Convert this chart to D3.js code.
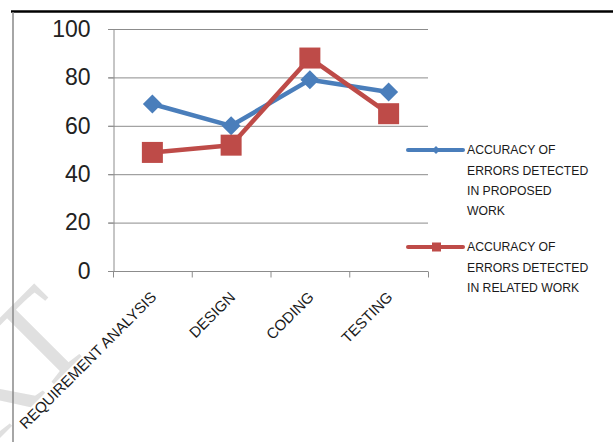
<!DOCTYPE html>
<html>
<head>
<meta charset="utf-8">
<script src="https://cdn.jsdelivr.net/npm/d3@7"></script>
<style>
  body { margin: 0; background: #fff; }
  svg { display: block; font-family: "Liberation Sans", Arial, sans-serif; }
</style>
</head>
<body>
<div id="chart"></div>
<script>
const categories = ["REQUIREMENT ANALYSIS", "DESIGN", "CODING", "TESTING"];
const proposedValues = [69, 60, 79, 74];
const relatedValues = [49, 52, 88, 65];
const yTicks = [0, 20, 40, 60, 80, 100];
const seriesNames = [
    ["ACCURACY OF", "ERRORS DETECTED", "IN PROPOSED", "WORK"],
    ["ACCURACY OF", "ERRORS DETECTED", "IN RELATED WORK"]
];

const width = 613, height = 442;
const blue = "#4a7ebb", red = "#be4b48";

const svg = d3.select("#chart").append("svg")
    .attr("width", width)
    .attr("height", height);

// faint watermark behind the chart
svg.append("text")
    .attr("transform", "translate(96,342) rotate(-45)")
    .attr("text-anchor", "end")
    .style("font-family", "'Liberation Serif', serif")
    .style("font-size", "130px")
    .style("fill", "#e0e0e0")
    .text("IJERT");

// frame
svg.append("line").attr("x1", 11).attr("x2", width).attr("y1", 11.5).attr("y2", 11.5)
    .style("stroke", "#000").style("stroke-width", 2.5);
svg.append("line").attr("x1", 13).attr("x2", 13).attr("y1", 12).attr("y2", height)
    .style("stroke", "#888").style("stroke-width", 1.5);

const x = d3.scaleBand().domain(categories).range([113, 428]);
const y = d3.scaleLinear().domain([0, 100]).range([271, 29]);

// gridlines
svg.append("g").selectAll("line")
    .data(yTicks.filter(d => d > 0))
    .enter().append("line")
    .attr("x1", 108).attr("x2", 428)
    .attr("y1", d => y(d) + 0.5).attr("y2", d => y(d) + 0.5)
    .style("stroke", "#8c8c8c").style("stroke-width", 1);

// y axis
const yAxis = svg.append("g")
    .attr("transform", "translate(113.5,0)")
    .call(d3.axisLeft(y).tickValues(yTicks).tickSize(5).tickPadding(18));
yAxis.select(".domain").style("stroke", "#8c8c8c");
yAxis.selectAll(".tick line").style("stroke", "#8c8c8c");
yAxis.selectAll(".tick text")
    .style("font-size", "23px")
    .style("fill", "#222")
    .style("font-family", "'Liberation Sans', Arial, sans-serif");

// x axis
const xAxis = svg.append("g").attr("transform", "translate(0,271.5)");
xAxis.append("line").attr("x1", 108).attr("x2", 428).style("stroke", "#8c8c8c");
xAxis.selectAll(".xtick")
    .data(d3.range(categories.length + 1))
    .enter().append("line")
    .attr("x1", i => 113.5 + i * x.bandwidth())
    .attr("x2", i => 113.5 + i * x.bandwidth())
    .attr("y1", 0).attr("y2", 6)
    .style("stroke", "#8c8c8c");

svg.append("g").selectAll("text")
    .data(categories)
    .enter().append("text")
    .attr("transform", d => `translate(${x(d) + x.bandwidth() / 2 + 5},298) rotate(-45)`)
    .attr("text-anchor", "end")
    .style("font-size", "15px")
    .style("fill", "#1a1a1a")
    .text(d => d);

// series
const cx = d => x(d) + x.bandwidth() / 2;
const line = d3.line().x(d => cx(d.cat)).y(d => y(d.v));
const proposed = categories.map((c, i) => ({ cat: c, v: proposedValues[i] }));
const related = categories.map((c, i) => ({ cat: c, v: relatedValues[i] }));

svg.append("path").datum(proposed).attr("d", line)
    .style("fill", "none").style("stroke", blue).style("stroke-width", 4.5)
    .style("stroke-linejoin", "round");
svg.append("g").selectAll("path")
    .data(proposed).enter().append("path")
    .attr("d", d3.symbol(d3.symbolDiamond2, 230))
    .attr("transform", d => `translate(${cx(d.cat)},${y(d.v)})`)
    .style("fill", blue);

svg.append("path").datum(related).attr("d", line)
    .style("fill", "none").style("stroke", red).style("stroke-width", 4.5)
    .style("stroke-linejoin", "round");
svg.append("g").selectAll("rect")
    .data(related).enter().append("rect")
    .attr("x", d => cx(d.cat) - 10.5).attr("y", d => y(d.v) - 10.5)
    .attr("width", 21).attr("height", 21)
    .style("fill", red);

// legend
const legend = svg.append("g");
const legendRows = [
    { color: blue, y: 150, names: seriesNames[0], marker: "diamond" },
    { color: red, y: 247, names: seriesNames[1], marker: "square" }
];
legendRows.forEach(r => {
    legend.append("line").attr("x1", 408).attr("x2", 463).attr("y1", r.y).attr("y2", r.y)
        .style("stroke", r.color).style("stroke-width", 4).style("stroke-linecap", "round");
    if (r.marker === "diamond") {
        legend.append("path").attr("d", d3.symbol(d3.symbolDiamond2, 40))
            .attr("transform", `translate(436,${r.y})`).style("fill", r.color);
    } else {
        legend.append("rect").attr("x", 432).attr("y", r.y - 4.5).attr("width", 9).attr("height", 9)
            .style("fill", r.color);
    }
    legend.append("text")
        .attr("x", 467).attr("y", r.y)
        .style("font-size", "12.2px")
        .style("fill", "#1a1a1a")
        .selectAll("tspan").data(r.names).enter().append("tspan")
        .attr("x", 467)
        .attr("y", (d, i) => r.y + i * 20.3)
        .attr("dy", "0.35em")
        .text(d => d);
});
</script>
</body>
</html>
